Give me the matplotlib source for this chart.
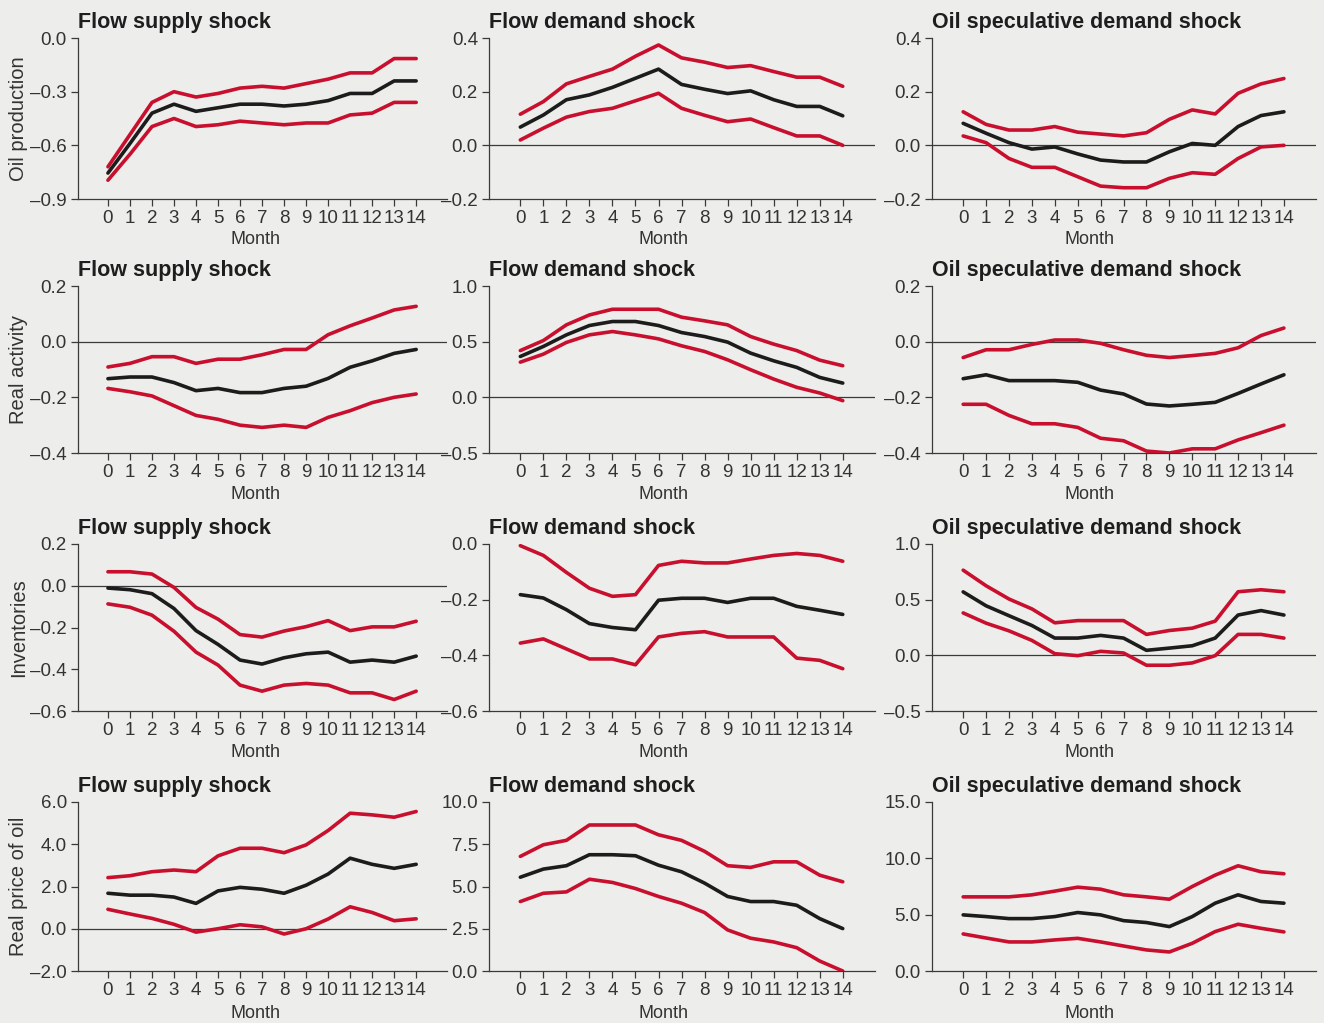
import matplotlib
matplotlib.use("Agg")
import matplotlib.pyplot as plt
from matplotlib.ticker import FuncFormatter

plt.rcParams["font.family"] = ["Liberation Sans", "DejaVu Sans"]

months = list(range(15))
variables = ["Oil production", "Real activity", "Inventories", "Real price of oil"]
shocks = ["Flow supply shock", "Flow demand shock", "Oil speculative demand shock"]

# Impulse responses: median and 68% band (lo / hi)
prod_supply_mid = [-0.755, -0.59, -0.42, -0.37, -0.41, -0.39, -0.37, -0.37, -0.38, -0.37, -0.35, -0.31, -0.31, -0.24, -0.24]
prod_supply_hi = [-0.72, -0.54, -0.36, -0.30, -0.33, -0.31, -0.28, -0.27, -0.28, -0.255, -0.23, -0.195, -0.195, -0.115, -0.115]
prod_supply_lo = [-0.795, -0.65, -0.495, -0.45, -0.495, -0.485, -0.465, -0.475, -0.485, -0.475, -0.475, -0.43, -0.42, -0.36, -0.36]

prod_demand_mid = [0.068, 0.113, 0.17, 0.188, 0.216, 0.25, 0.284, 0.227, 0.209, 0.193, 0.203, 0.17, 0.145, 0.145, 0.11]
prod_demand_hi = [0.116, 0.163, 0.229, 0.257, 0.284, 0.332, 0.374, 0.326, 0.31, 0.29, 0.297, 0.275, 0.254, 0.254, 0.22]
prod_demand_lo = [0.02, 0.064, 0.105, 0.126, 0.138, 0.166, 0.194, 0.138, 0.112, 0.088, 0.098, 0.066, 0.035, 0.035, 0.0]

prod_spec_mid = [0.082, 0.045, 0.01, -0.014, -0.006, -0.032, -0.055, -0.062, -0.062, -0.024, 0.007, 0.0, 0.07, 0.111, 0.125]
prod_spec_hi = [0.125, 0.078, 0.057, 0.057, 0.07, 0.049, 0.042, 0.035, 0.047, 0.097, 0.132, 0.117, 0.194, 0.229, 0.249]
prod_spec_lo = [0.035, 0.01, -0.049, -0.082, -0.082, -0.117, -0.152, -0.158, -0.158, -0.123, -0.102, -0.108, -0.049, -0.006, 0.0]

act_supply_mid = [-0.133, -0.127, -0.127, -0.147, -0.176, -0.168, -0.183, -0.183, -0.168, -0.16, -0.132, -0.092, -0.069, -0.042, -0.028]
act_supply_hi = [-0.091, -0.078, -0.054, -0.054, -0.078, -0.063, -0.063, -0.047, -0.028, -0.028, 0.025, 0.057, 0.085, 0.114, 0.127]
act_supply_lo = [-0.168, -0.18, -0.195, -0.23, -0.265, -0.279, -0.3, -0.308, -0.3, -0.308, -0.272, -0.248, -0.219, -0.2, -0.188]

act_demand_mid = [0.367, 0.457, 0.561, 0.645, 0.681, 0.681, 0.645, 0.582, 0.546, 0.496, 0.397, 0.328, 0.269, 0.179, 0.128]
act_demand_hi = [0.42, 0.51, 0.651, 0.74, 0.791, 0.791, 0.791, 0.72, 0.687, 0.651, 0.546, 0.478, 0.42, 0.334, 0.284]
act_demand_lo = [0.316, 0.388, 0.493, 0.561, 0.591, 0.561, 0.525, 0.463, 0.412, 0.337, 0.248, 0.164, 0.09, 0.039, -0.03]

act_spec_mid = [-0.133, -0.119, -0.14, -0.14, -0.14, -0.146, -0.174, -0.188, -0.224, -0.231, -0.225, -0.218, -0.186, -0.152, -0.119]
act_spec_hi = [-0.057, -0.029, -0.029, -0.01, 0.006, 0.006, -0.006, -0.029, -0.049, -0.057, -0.05, -0.042, -0.022, 0.022, 0.049]
act_spec_lo = [-0.225, -0.225, -0.265, -0.295, -0.295, -0.308, -0.347, -0.356, -0.393, -0.4, -0.385, -0.385, -0.353, -0.327, -0.3]

inv_supply_mid = [-0.011, -0.019, -0.038, -0.109, -0.215, -0.281, -0.356, -0.375, -0.345, -0.326, -0.318, -0.366, -0.356, -0.366, -0.337]
inv_supply_hi = [0.067, 0.067, 0.056, -0.008, -0.104, -0.16, -0.234, -0.246, -0.217, -0.196, -0.167, -0.215, -0.197, -0.197, -0.17]
inv_supply_lo = [-0.087, -0.103, -0.141, -0.218, -0.318, -0.38, -0.476, -0.505, -0.476, -0.468, -0.476, -0.513, -0.513, -0.545, -0.505]

inv_demand_mid = [-0.182, -0.194, -0.236, -0.286, -0.3, -0.308, -0.202, -0.195, -0.195, -0.21, -0.195, -0.195, -0.224, -0.238, -0.253]
inv_demand_hi = [-0.006, -0.041, -0.102, -0.159, -0.188, -0.182, -0.077, -0.062, -0.068, -0.068, -0.054, -0.041, -0.034, -0.041, -0.062]
inv_demand_lo = [-0.356, -0.341, -0.377, -0.413, -0.413, -0.434, -0.334, -0.321, -0.315, -0.334, -0.334, -0.334, -0.41, -0.418, -0.448]

inv_spec_mid = [0.57, 0.445, 0.356, 0.268, 0.155, 0.155, 0.179, 0.155, 0.045, 0.065, 0.086, 0.155, 0.362, 0.402, 0.362]
inv_spec_hi = [0.765, 0.625, 0.506, 0.417, 0.292, 0.312, 0.312, 0.312, 0.188, 0.223, 0.244, 0.307, 0.571, 0.589, 0.571]
inv_spec_lo = [0.381, 0.289, 0.22, 0.134, 0.015, -0.003, 0.036, 0.021, -0.089, -0.089, -0.068, -0.003, 0.188, 0.188, 0.155]

price_supply_mid = [1.68, 1.59, 1.59, 1.50, 1.20, 1.79, 1.96, 1.87, 1.68, 2.06, 2.59, 3.34, 3.05, 2.86, 3.05]
price_supply_hi = [2.42, 2.51, 2.70, 2.78, 2.70, 3.45, 3.81, 3.81, 3.60, 3.97, 4.65, 5.47, 5.39, 5.28, 5.55]
price_supply_lo = [0.92, 0.70, 0.49, 0.21, -0.16, 0.0, 0.19, 0.09, -0.25, 0.0, 0.46, 1.04, 0.77, 0.38, 0.47]

price_demand_mid = [5.55, 6.03, 6.23, 6.88, 6.88, 6.82, 6.26, 5.87, 5.2, 4.41, 4.11, 4.11, 3.89, 3.1, 2.51]
price_demand_hi = [6.78, 7.47, 7.73, 8.64, 8.64, 8.64, 8.06, 7.73, 7.08, 6.23, 6.13, 6.46, 6.46, 5.67, 5.28]
price_demand_lo = [4.11, 4.6, 4.68, 5.43, 5.24, 4.88, 4.41, 4.01, 3.46, 2.43, 1.94, 1.72, 1.38, 0.59, 0.0]

price_spec_mid = [4.98, 4.83, 4.65, 4.65, 4.83, 5.19, 4.98, 4.47, 4.3, 3.94, 4.83, 6.02, 6.76, 6.17, 6.02]
price_spec_hi = [6.58, 6.58, 6.58, 6.76, 7.09, 7.44, 7.26, 6.76, 6.58, 6.37, 7.5, 8.51, 9.34, 8.81, 8.63]
price_spec_lo = [3.29, 2.93, 2.58, 2.58, 2.76, 2.9, 2.58, 2.22, 1.87, 1.69, 2.46, 3.5, 4.15, 3.79, 3.47]

responses = [
    [(prod_supply_lo, prod_supply_mid, prod_supply_hi),
     (prod_demand_lo, prod_demand_mid, prod_demand_hi),
     (prod_spec_lo, prod_spec_mid, prod_spec_hi)],
    [(act_supply_lo, act_supply_mid, act_supply_hi),
     (act_demand_lo, act_demand_mid, act_demand_hi),
     (act_spec_lo, act_spec_mid, act_spec_hi)],
    [(inv_supply_lo, inv_supply_mid, inv_supply_hi),
     (inv_demand_lo, inv_demand_mid, inv_demand_hi),
     (inv_spec_lo, inv_spec_mid, inv_spec_hi)],
    [(price_supply_lo, price_supply_mid, price_supply_hi),
     (price_demand_lo, price_demand_mid, price_demand_hi),
     (price_spec_lo, price_spec_mid, price_spec_hi)],
]

# y ticks per panel
yticks = [
    [[-0.9, -0.6, -0.3, 0.0], [-0.2, 0.0, 0.2, 0.4], [-0.2, 0.0, 0.2, 0.4]],
    [[-0.4, -0.2, 0.0, 0.2], [-0.5, 0.0, 0.5, 1.0], [-0.4, -0.2, 0.0, 0.2]],
    [[-0.6, -0.4, -0.2, 0.0, 0.2], [-0.6, -0.4, -0.2, 0.0], [-0.5, 0.0, 0.5, 1.0]],
    [[-2.0, 0.0, 2.0, 4.0, 6.0], [0.0, 2.5, 5.0, 7.5, 10.0], [0.0, 5.0, 10.0, 15.0]],
]

BG = "#ededeb"
RED = "#c8102e"
INK = "#1c1c1c"
GREY = "#3a3a3a"
TXT = "#333333"


def fmt_tick(v, pos):
    s = f"{v:.1f}"
    return s.replace("-", "\u2013")


W, H = 1324, 1023
fig = plt.figure(figsize=(W / 100, H / 100), dpi=100, facecolor=BG)

col_x = [(78, 447), (489, 875), (932, 1316)]
row_y = [(38, 199), (286, 453), (544, 711), (802, 971)]
month_x = [0.48, 0.453, 0.409]

for r in range(4):
    for c in range(3):
        x0, x1 = col_x[c]
        y0, y1 = row_y[r]
        ax = fig.add_axes([x0 / W, 1 - y1 / H, (x1 - x0) / W, (y1 - y0) / H])
        ax.set_facecolor(BG)
        lo, mid, hi = responses[r][c]
        ticks = yticks[r][c]
        ymin, ymax = ticks[0], ticks[-1]
        if ymin < 0 < ymax:
            ax.axhline(0, color=GREY, lw=0.9, zorder=1)
        ax.plot(months, hi, color=RED, lw=2.6, solid_capstyle="round", zorder=3)
        ax.plot(months, lo, color=RED, lw=2.6, solid_capstyle="round", zorder=3)
        ax.plot(months, mid, color=INK, lw=2.6, solid_capstyle="round", zorder=4)

        ax.set_xlim(-1.36, 15.4)
        ax.set_ylim(ymin, ymax)
        ax.set_yticks(ticks)
        ax.yaxis.set_major_formatter(FuncFormatter(fmt_tick))
        ax.set_xticks(months)
        ax.set_xticklabels([str(m) for m in months])
        for side in ["top", "right"]:
            ax.spines[side].set_visible(False)
        for side in ["left", "bottom"]:
            ax.spines[side].set_color(GREY)
            ax.spines[side].set_linewidth(0.9)
        ax.tick_params(axis="both", colors=GREY, labelcolor=TXT,
                       labelsize=13.5, width=0.9, length=5, pad=3)
        ax.set_xlabel("Month", fontsize=13, color=TXT)
        ax.xaxis.set_label_coords(month_x[c], -0.2)
        ax.set_title(shocks[c], loc="left", fontsize=15.5, fontweight="bold",
                     color="#1e1e1e", pad=7)
        if c == 0:
            ax.set_ylabel(variables[r], fontsize=14.5, color=TXT)
            ax.yaxis.set_label_coords(-0.135, 0.5)

fig.savefig("out.png", dpi=100, facecolor=BG)
